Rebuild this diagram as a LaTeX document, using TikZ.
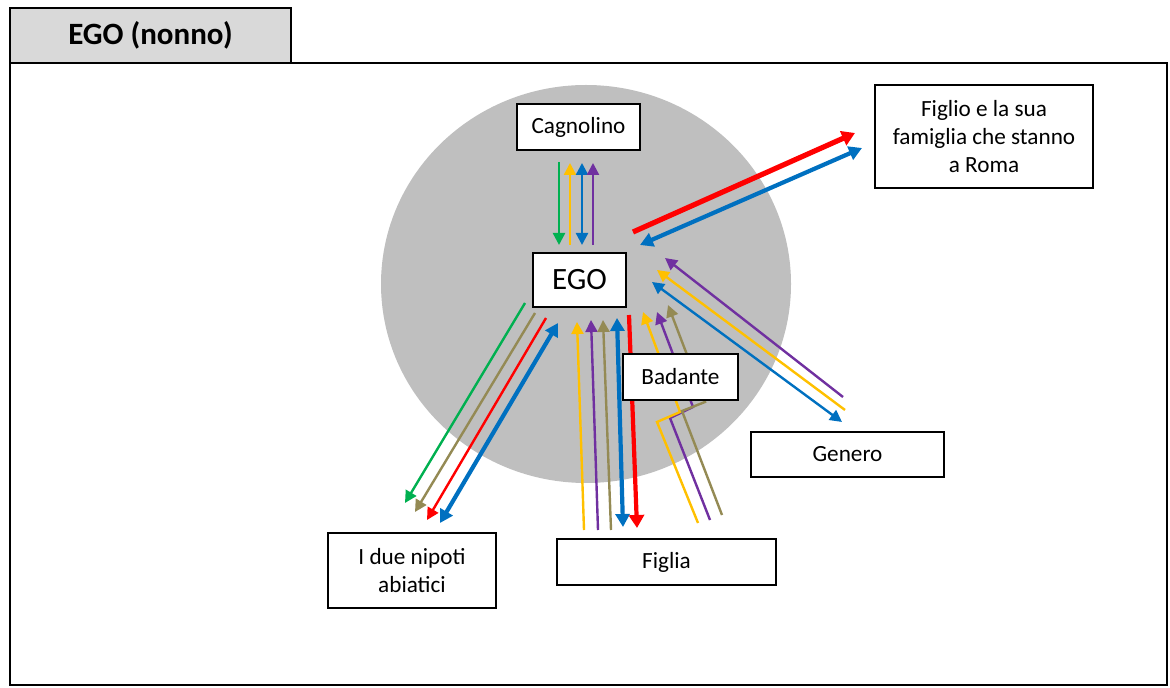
\documentclass[tikz,border=0pt]{standalone}
\usepackage{fontspec}
\setmainfont{Carlito}
\usetikzlibrary{arrows.meta}
\definecolor{cgreen}{HTML}{00B050}
\definecolor{cyellow}{HTML}{FFC000}
\definecolor{cblue}{HTML}{0070C0}
\definecolor{cpurple}{HTML}{7030A0}
\definecolor{cred}{HTML}{FF0000}
\definecolor{colive}{HTML}{948A54}
\definecolor{circgray}{RGB}{191,191,191}
\definecolor{tabgray}{RGB}{217,217,217}
\begin{document}
\begin{tikzpicture}[x=0.5pt,y=-0.5pt,
  box/.style={draw=black, line width=1.4pt, fill=white, inner sep=0pt, align=center,
    font=\fontsize{11.6}{13.8}\selectfont},
  thin/.style={line width=1.2pt},
  thick/.style={line width=2.1pt},
  thickr/.style={line width=2.6pt},
  ar/.style={-{Triangle[length=6pt,width=6pt]}},
  br/.style={{Triangle[length=6pt,width=6pt]}-{Triangle[length=6pt,width=6pt]}},
  arT/.style={-{Triangle[length=6.5pt,width=7.5pt]}},
  brT/.style={{Triangle[length=6.5pt,width=7pt]}-{Triangle[length=6.5pt,width=7pt]}},
  line join=miter]
\useasboundingbox (0,0) rectangle (1170,688);
% frame and title tab
\draw[line width=1.4pt] (10,63) rectangle (1167,685);
\node[draw=black, line width=1.4pt, fill=tabgray, inner sep=0pt,
  minimum width=140.5pt, minimum height=27.5pt,
  font=\bfseries\fontsize{15.5}{18}\selectfont] (title) at (150.5,35.5) {EGO (nonno)};
% grey circle
\fill[circgray] (586,284) ellipse [x radius=102.5pt, y radius=99.5pt];
% Cagnolino arrows
\draw[thin, ar, cgreen] (559,162) -- (559,245);
\draw[thin, ar, cyellow] (570,245) -- (570,163);
\draw[thin, br, cblue] (582,163) -- (582,245);
\draw[thin, ar, cpurple] (593,245) -- (593,163);
% Figlio arrows
\draw[thickr, arT, cred] (633,232) -- (855,133);
\draw[thick, brT, cblue] (640,245) -- (862,148);
% Nipoti arrows
\draw[thin, ar, cgreen] (525,303) -- (405,503);
\draw[thin, ar, colive] (535,313) -- (415,512);
\draw[thin, ar, cred] (546,318) -- (427,520);
\draw[thick, brT, cblue] (558,323) -- (440,523);
% Figlia arrows
\draw[thin, ar, cyellow] (584,530) -- (577,322);
\draw[thin, ar, cpurple] (598,530) -- (591,320);
\draw[thin, ar, colive] (611,530) -- (603,320);
\draw[thick, brT, cblue] (623,527) -- (617,318);
\draw[thick, arT, cred] (629,315) -- (637,528);
% Figlia arrows passing behind Badante
\draw[thin, ar, cpurple] (710,520) -- (670,418) -- (693,407) -- (657,312);
\draw[thin, ar, cyellow] (698,523) -- (657,422) -- (680,412) -- (643,312);
\draw[thin, ar, colive] (722,515) -- (682,411) -- (705,402) -- (668,305);
% Genero arrows
\draw[thin, ar, cpurple] (843,397) -- (665,258);
\draw[thin, ar, cyellow] (845,410) -- (657,270);
\draw[thin, br, cblue] (842,422) -- (652,282);
% boxes
\node[box, minimum width=61.5pt, minimum height=23pt] (cagn) at (578.5,127) {Cagnolino};
\node[box, minimum width=46.5pt, minimum height=27pt, font=\fontsize{15.5}{18}\selectfont] (ego) at (579.5,280) {EGO};
\node[box, minimum width=109pt, minimum height=51.5pt] (figlio) at (984,136.5) {Figlio e la sua\\famiglia che stanno\\a Roma};
\node[box, minimum width=57.5pt, minimum height=23pt] (badante) at (680.5,377) {Badante};
\node[box, minimum width=96.5pt, minimum height=22.5pt] (genero) at (847.5,454.5) {Genero};
\node[box, minimum width=109.5pt, minimum height=23pt] (figlia) at (666.5,562) {Figlia};
\node[box, minimum width=84pt, minimum height=37.5pt] (nipoti) at (412,570.5) {I due nipoti\\abiatici};
\end{tikzpicture}
\end{document}
